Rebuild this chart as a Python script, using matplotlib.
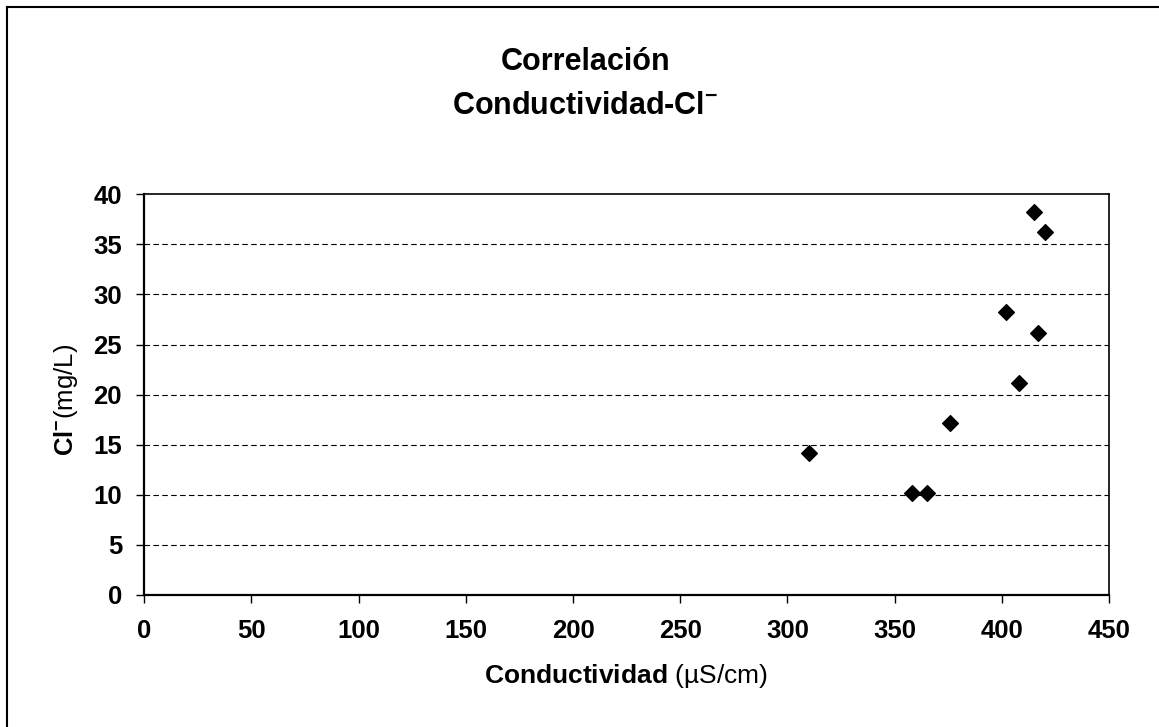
import matplotlib
matplotlib.use("Agg")
import matplotlib.pyplot as plt
from matplotlib.lines import Line2D

plt.rcParams["font.family"] = ["Liberation Sans", "DejaVu Sans"]
plt.rcParams["mathtext.fontset"] = "custom"
plt.rcParams["mathtext.rm"] = "Liberation Sans"
plt.rcParams["mathtext.bf"] = "Liberation Sans:bold"
plt.rcParams["mathtext.it"] = "Liberation Sans:italic"

# data
conductividad = [310, 358, 365, 376, 402, 408, 417, 415, 420]
cloruro = [14.2, 10.2, 10.2, 17.2, 28.2, 21.2, 26.2, 38.2, 36.2]
x_ticks = [0, 50, 100, 150, 200, 250, 300, 350, 400, 450]
y_ticks = [0, 5, 10, 15, 20, 25, 30, 35, 40]

fig = plt.figure(figsize=(11.59, 7.27), dpi=100)
ax = fig.add_axes([0.1245, 0.1816, 0.8324, 0.5512])

ax.scatter(conductividad, cloruro, marker="D", s=64, color="black", zorder=3)

ax.set_xlim(0, 450)
ax.set_ylim(0, 40)
ax.set_xticks(x_ticks)
ax.set_yticks(y_ticks)
ax.tick_params(axis="both", direction="out", length=6, width=1, labelsize=18.5, color="black")
ax.tick_params(axis="x", pad=11)
ax.tick_params(axis="y", pad=10)
for lab in ax.get_xticklabels() + ax.get_yticklabels():
    lab.set_fontweight("bold")

for y in y_ticks[1:-1]:
    ax.axhline(y, color="black", lw=0.8, ls=(0, (5, 3)), zorder=1)

for side in ["left", "bottom"]:
    ax.spines[side].set_linewidth(1.6)
for side in ["top", "right"]:
    ax.spines[side].set_linewidth(1.2)

# titles
fig.text(0.5048, 0.9037, "Correlación", ha="center", va="baseline",
         fontsize=22, fontweight="bold")
fig.text(0.5048, 0.8432, r"Conductividad-Cl$^{\mathbf{-}}$", ha="center", va="baseline",
         fontsize=22, fontweight="bold")

# axis labels
fig.text(0.540, 0.0605, r"$\mathbf{Conductividad}$ (µS/cm)", ha="center", va="baseline",
         fontsize=19)
fig.text(0.057, 0.4505, r"$\mathbf{Cl^{-}}$(mg/L)", ha="center", va="center",
         rotation=90, fontsize=18.5)

# outer frame (only top and left edges show)
fig.add_artist(Line2D([0.006, 1.0], [0.991, 0.991], transform=fig.transFigure, color="black", lw=1.5))
fig.add_artist(Line2D([0.006, 0.006], [0.0, 0.991], transform=fig.transFigure, color="black", lw=1.5))

fig.savefig("out.png", dpi=100)
